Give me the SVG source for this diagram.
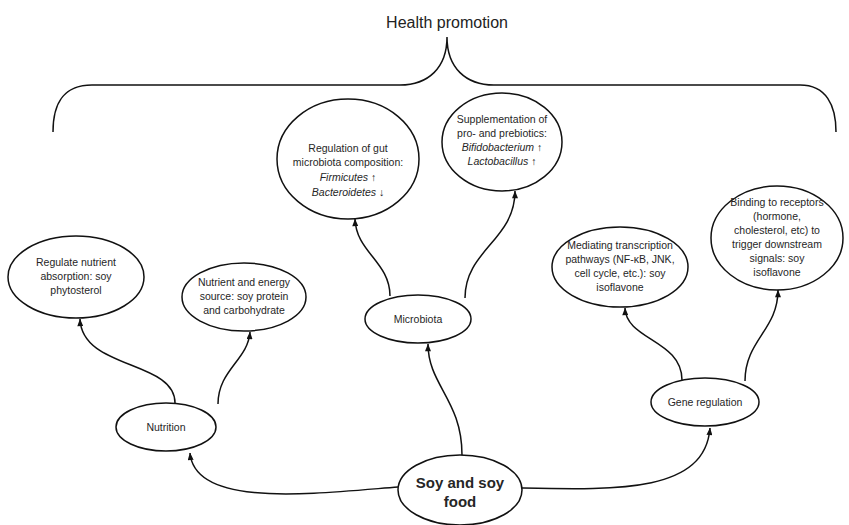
<svg xmlns="http://www.w3.org/2000/svg" width="849" height="525" viewBox="0 0 849 525">
<defs>
<marker id="ah" viewBox="0 0 10 8" refX="9.5" refY="4" markerWidth="9" markerHeight="6" orient="auto" markerUnits="userSpaceOnUse">
<path d="M0,0 L10,4 L0,8 z" fill="#111"/>
</marker>
<style>
.n ellipse{fill:#fff;stroke:#111;stroke-width:1.5}
.t{font-family:"Liberation Sans",Arial,sans-serif;font-size:10.5px;fill:#262626;text-anchor:middle}
.i{font-style:italic}
.c path{fill:none;stroke:#111;stroke-width:1.5;marker-end:url(#ah)}
.b{fill:none;stroke:#111;stroke-width:1.5}
</style>
</defs>
<rect width="849" height="525" fill="#fff"/>
<g id="health">
<text x="447" y="28" style="font-family:'Liberation Sans',Arial,sans-serif;font-size:16px;fill:#222;text-anchor:middle">Health promotion</text>
<path class="b" d="M53,132 C53,105 62,85 92,85 L400,85 C428,85 447,68 447,37 C447,68 466,85 494,85 L800,85 C826,85 836,105 836,132"/>
</g>
<g class="c" id="connectors">
<path d="M398,487 C310,494 195,508 190,453"/>
<path d="M522,488 C620,490 705,492 710,428"/>
<path d="M462,455 C462,400 428,385 428,344"/>
<path d="M175,403 C175,360 82,370 80,319"/>
<path d="M218,404 C218,370 248,360 250,332"/>
<path d="M390,296 C390,262 356,252 355,219"/>
<path d="M465,298 C465,250 515,240 515,191"/>
<path d="M682,380 C682,340 626,340 625,308"/>
<path d="M745,381 C745,340 778,330 778,290"/>
</g>
<g class="n" id="soy">
<ellipse cx="460" cy="490" rx="62" ry="35"/>
<text class="t" x="460" y="488" style="font-size:15px;font-weight:bold">Soy and soy</text>
<text class="t" x="460" y="507" style="font-size:15px;font-weight:bold">food</text>
</g>
<g class="n" id="nutrition">
<ellipse cx="166" cy="427" rx="50" ry="24"/>
<text class="t" x="166" y="431">Nutrition</text>
</g>
<g class="n" id="microbiota">
<ellipse cx="418" cy="319" rx="53" ry="24"/>
<text class="t" x="418" y="323">Microbiota</text>
</g>
<g class="n" id="gene">
<ellipse cx="705" cy="402" rx="54" ry="24"/>
<text class="t" x="705" y="406">Gene regulation</text>
</g>
<g class="n" id="absorption">
<ellipse cx="76" cy="277" rx="68" ry="41"/>
<text class="t" x="76" y="266">Regulate nutrient</text>
<text class="t" x="76" y="280">absorption: soy</text>
<text class="t" x="76" y="294">phytosterol</text>
</g>
<g class="n" id="energy">
<ellipse cx="244" cy="297" rx="62" ry="34"/>
<text class="t" x="244" y="286">Nutrient and energy</text>
<text class="t" x="244" y="300">source: soy protein</text>
<text class="t" x="244" y="314">and carbohydrate</text>
</g>
<g class="n" id="gut">
<ellipse cx="348" cy="159" rx="71" ry="60"/>
<text class="t" x="348" y="152">Regulation of gut</text>
<text class="t" x="348" y="166">microbiota composition:</text>
<text class="t" x="348" y="181"><tspan class="i">Firmicutes</tspan> ↑</text>
<text class="t" x="348" y="196"><tspan class="i">Bacteroidetes</tspan> ↓</text>
</g>
<g class="n" id="prebiotics">
<ellipse cx="502" cy="142" rx="60" ry="49"/>
<text class="t" x="502" y="123">Supplementation of</text>
<text class="t" x="502" y="137">pro- and prebiotics:</text>
<text class="t" x="502" y="151"><tspan class="i">Bifidobacterium</tspan> ↑</text>
<text class="t" x="502" y="165"><tspan class="i">Lactobacillus</tspan> ↑</text>
</g>
<g class="n" id="transcription">
<ellipse cx="620" cy="267" rx="68" ry="40"/>
<text class="t" x="620" y="249">Mediating transcription</text>
<text class="t" x="620" y="263">pathways (NF-κB, JNK,</text>
<text class="t" x="620" y="277">cell cycle, etc.): soy</text>
<text class="t" x="620" y="291">isoflavone</text>
</g>
<g class="n" id="receptors">
<ellipse cx="777" cy="238" rx="66" ry="52"/>
<text class="t" x="777" y="206">Binding to receptors</text>
<text class="t" x="777" y="220">(hormone,</text>
<text class="t" x="777" y="234">cholesterol, etc) to</text>
<text class="t" x="777" y="248">trigger downstream</text>
<text class="t" x="777" y="262">signals: soy</text>
<text class="t" x="777" y="276">isoflavone</text>
</g>
</svg>
